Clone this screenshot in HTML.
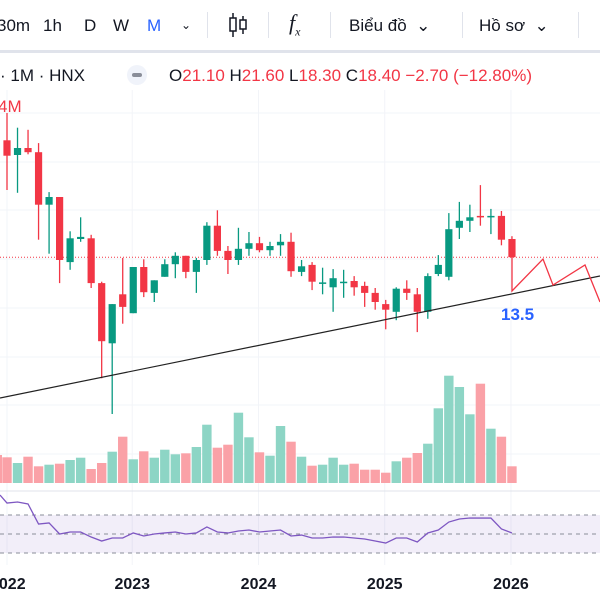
<!DOCTYPE html>
<html><head><meta charset="utf-8"><style>
html,body{margin:0;padding:0;background:#fff;width:600px;height:600px;overflow:hidden;font-family:"Liberation Sans","Noto Sans CJK SC",sans-serif;}
#root{position:relative;width:600px;height:600px;}
.tb{position:absolute;top:0;left:0;width:600px;height:50px;border-bottom:3px solid #e0e3eb;box-sizing:content-box;}
.t{position:absolute;top:16px;font-size:17px;color:#131722;white-space:nowrap;}
.sep{position:absolute;top:12px;width:1px;height:26px;background:#e0e3eb;}
.leg{position:absolute;top:66px;font-size:17px;color:#131722;white-space:nowrap;}
.r{color:#f23645;}
svg{position:absolute;left:0;top:0;}
</style></head><body>
<div id="root">
<svg id="chart" width="600" height="600"></svg>
<div class="tb">
 <span class="t" style="left:-3px">30m</span>
 <span class="t" style="left:43px">1h</span>
 <span class="t" style="left:84px">D</span>
 <span class="t" style="left:113px">W</span>
 <span class="t" style="left:147px;color:#2962ff">M</span>
 <span class="t" style="left:181px;font-size:12px;top:18px">&#8964;</span>
 <div class="sep" style="left:207px"></div>
 <svg style="left:226px;top:12px" width="24" height="26"><line x1="7" y1="1" x2="7" y2="25" stroke="#131722" stroke-width="1.5"/><rect x="4" y="6" width="6" height="13" fill="#fff" stroke="#131722" stroke-width="1.5"/><line x1="17" y1="4" x2="17" y2="22" stroke="#131722" stroke-width="1.5"/><rect x="14" y="8" width="6" height="9" fill="#fff" stroke="#131722" stroke-width="1.5"/></svg>
 <div class="sep" style="left:268px"></div>
 <span class="t" style="left:289px;font-style:italic;font-family:'Liberation Serif',serif;font-size:22px;top:10px">f<sub style="font-size:12px">x</sub></span>
 <div class="sep" style="left:330px"></div>
 <span class="t" style="left:349px">Biểu đồ &nbsp;&#8964;</span>
 <div class="sep" style="left:462px"></div>
 <span class="t" style="left:479px">Hồ sơ &nbsp;&#8964;</span>
 <div class="sep" style="left:578px"></div>
</div>
<div class="leg" style="left:0">· 1M · HNX</div>
<div style="position:absolute;left:127px;top:65px;width:20px;height:20px;border-radius:10px;background:#f0f3fa"><div style="position:absolute;left:5px;top:8px;width:10px;height:4px;border-radius:2px;background:#8a8e99"></div></div>
<div class="leg" style="left:169px">O<span class="r">21.10</span> H<span class="r">21.60</span> L<span class="r">18.30</span> C<span class="r">18.40</span> <span class="r">−2.70 (−12.80%)</span></div>
<div class="leg r" style="left:-2px;top:97px">4M</div>
</div>
<script>
const opens=[47.1,45.0,46.0,45.4,37.9,39.0,29.7,33.0,33.1,26.7,18.1,25.1,22.4,29.0,25.3,27.6,29.4,30.6,28.3,30.0,34.9,31.3,30.0,31.6,32.4,31.4,32.1,32.6,28.3,29.3,26.7,26.1,26.7,27.0,26.3,25.3,23.7,22.6,25.9,25.1,22.6,28.0,27.6,34.6,35.6,36.3,36.1,36.3,33.0];
const highs=[51.0,48.9,48.6,46.7,39.7,39.0,34.1,36.1,33.6,26.9,23.7,30.3,29.0,30.1,27.1,30.1,31.1,30.6,30.3,35.4,37.1,32.0,34.6,34.0,33.3,32.6,33.7,33.9,30.0,29.7,28.9,28.7,28.6,27.7,26.9,26.0,24.3,26.1,27.1,26.0,28.1,30.7,36.7,38.3,37.9,40.7,37.3,37.0,33.4];
const lows=[40.0,39.6,45.1,32.9,30.9,26.7,28.6,32.6,26.0,13.1,8.0,20.9,22.4,24.7,24.0,27.6,27.4,27.4,25.3,29.3,30.6,28.0,29.3,30.6,31.1,30.6,30.6,27.6,27.7,25.7,25.1,22.6,24.6,24.9,23.3,22.9,20.1,21.4,24.3,19.7,21.6,27.7,27.1,33.0,34.0,34.9,33.7,32.1,30.3];
const closes=[44.9,46.0,45.4,37.9,39.0,30.0,33.1,33.3,26.7,18.4,23.7,23.3,29.0,25.4,27.1,29.4,30.6,28.3,30.0,34.9,31.3,30.0,31.6,32.4,31.4,32.0,32.6,28.4,29.1,26.9,26.8,27.4,26.9,26.1,25.3,24.0,22.9,25.9,25.3,22.6,27.7,29.3,34.4,35.6,36.1,36.1,36.3,32.9,30.4];
const volumes=[25.7,20,26.3,16.7,18.3,19.3,23,25.3,14,20,31.3,46.3,23.7,31.7,25.3,33.3,28.7,29.7,36,58.3,35.3,38.3,70.3,45.7,30.7,27.3,57,41.3,26.3,17.3,18.3,25.3,18.3,19.3,13.3,13.3,10.3,21.7,25.3,30,39.3,74.7,107.3,96,68.7,99.3,54.3,46.3,16.7];
const rsi=[82.6,83.7,81.6,60.5,61.6,50,52.1,52.1,46.8,42.6,45.8,45.8,51.1,47.9,50,51.1,52.1,50,51.1,57.4,52.1,51.1,53.2,54.2,52.1,53.2,54.2,47.9,48.9,45.8,45.8,46.8,46.8,45.8,44.7,42.6,40.5,45.8,45.8,41.6,51.1,54.2,62.6,65.8,66.8,66.8,66.8,55.3,51.1];
const yearLabels=["2022","2023","2024","2025","2026"];
const yearIndex=[0,12,24,36,48];

const NS="http://www.w3.org/2000/svg";
const chartSvg=document.getElementById('chart');
const xS=i=>7+i*10.52;
const yP=p=>470-7*p;
const yV=v=>483-v;
const yR=r=>534-(r-50)*0.95;
function mk(tag,attrs){const e=document.createElementNS(NS,tag);for(const k in attrs)e.setAttribute(k,attrs[k]);chartSvg.appendChild(e);return e;}

[113,162,210,259,308,357,405,454].forEach(y=>{const g=mk('line',{x1:0,x2:600,y1:y,y2:y,stroke:'#f2f4f8','stroke-width':1});

});
yearIndex.forEach((idx,k)=>{const x=xS(idx)-(k===0?0:1);const g=mk('line',{x1:x,x2:x,y1:90,y2:565,stroke:'#f2f4f8','stroke-width':1});

});

const ps=mk('line',{x1:0,x2:600,y1:491,y2:491,stroke:'#e0e3eb','stroke-width':1});



volumes.forEach((v,i)=>{const up=closes[i]>=opens[i];
const b=mk('rect',{x:xS(i)-4.7,y:yV(v),width:9.4,height:v,fill:up?'#8dd5c5':'#faa1a7'});

});
const pb=mk('rect',{x:0,y:yV(28),width:2,height:28,fill:'#faa1a7'});



const lastY=yP(closes[closes.length-1]);
const cl=mk('line',{x1:0,x2:600,y1:lastY,y2:lastY,stroke:'#f23645','stroke-width':1,'stroke-dasharray':'1 2'});



opens.forEach((o,i)=>{const c=closes[i],up=c>=o,col=up?'#089981':'#f23645',x=xS(i);
const w=mk('line',{x1:x,x2:x,y1:yP(highs[i]),y2:yP(lows[i]),stroke:col,'stroke-width':1.3});


const top=yP(Math.max(o,c)),h=Math.max(1.5,Math.abs(yP(o)-yP(c)));
const r=mk('rect',{x:x-3.6,y:top,width:7.2,height:h,fill:col});

});

const tl=mk('line',{x1:0,y1:398,x2:600,y2:276,stroke:'#222','stroke-width':1.2});


const zz=mk('polyline',{points:'512,257 512,291 543,259 553,285 585,265 600,302',fill:'none',stroke:'#f23645','stroke-width':1.3});


const tg=mk('text',{x:501,y:320,'font-size':17,'font-weight':'bold',fill:'#2962ff','font-family':'Liberation Sans, sans-serif'});
tg.textContent='13.5';



const band=mk('rect',{x:0,y:yR(70),width:600,height:yR(30)-yR(70),fill:'#7e57c2','fill-opacity':0.1});


[70,50,30].forEach(v=>{const l=mk('line',{x1:0,x2:600,y1:yR(v),y2:yR(v),stroke:'#8a8e99','stroke-width':1,'stroke-dasharray':'4 4'});

});
let pts='0,'+yR(91)+' ';
rsi.forEach((r,i)=>{pts+=xS(i)+','+yR(r)+' ';});
const rl=mk('polyline',{points:pts,fill:'none',stroke:'#7e57c2','stroke-width':1.3});



yearLabels.forEach((t,k)=>{const x=k===0?-10:xS(yearIndex[k])-1;
const e=mk('text',{x:x,y:589,'font-size':16,'font-weight':'bold','text-anchor':k===0?'start':'middle',fill:'#131722','font-family':'Liberation Sans, sans-serif'});
e.textContent=t;

});
</script>
</body></html>
